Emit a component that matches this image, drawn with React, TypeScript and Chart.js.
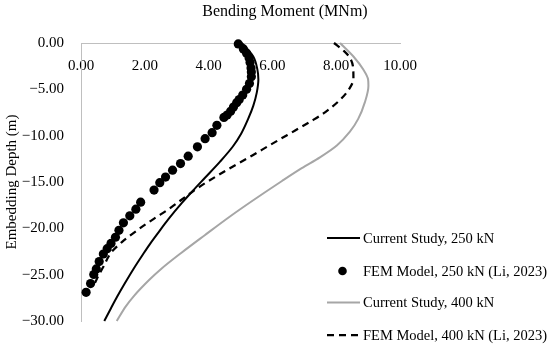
import { useEffect, useRef } from "react";
import { Chart, registerables } from "chart.js";

Chart.register(...registerables);

const seriesLabels = [
  "Current Study, 250 kN",
  "FEM Model, 250 kN (Li, 2023)",
  "Current Study, 400 kN",
  "FEM Model, 400 kN (Li, 2023)",
];

const xAxisTitle = "Bending Moment (MNm)";
const yAxisTitle = "Embedding Depth (m)";

const xTickStep = 2;
const yTickStep = 5;
const xRange = [0, 10];
const yRange = [-30, 0];

// Current Study, 250 kN
const cs250Moment = [5.04, 5.4, 5.53, 5.56, 5.51, 5.4, 5.24, 5.02, 4.76, 4.36, 3.88, 3.54, 3.17, 2.74, 2.43, 2.16, 1.95, 1.65, 1.37, 1.14, 0.94, 0.73];
const cs250Depth = [0, -1.46, -2.87, -3.94, -5.35, -6.78, -8.19, -9.79, -11.17, -12.8, -14.57, -15.82, -17.23, -19.01, -20.43, -21.7, -22.77, -24.36, -25.96, -27.34, -28.62, -30.0];

// FEM Model, 250 kN (Li, 2023)
const fem250Moment = [4.93, 5.09, 5.19, 5.27, 5.3, 5.33, 5.34, 5.34, 5.28, 5.19, 5.07, 4.96, 4.88, 4.78, 4.69, 4.58, 4.48, 4.26, 4.11, 3.89, 3.65, 3.36, 3.12, 2.87, 2.65, 2.47, 2.29, 1.87, 1.72, 1.53, 1.33, 1.19, 1.08, 0.94, 0.82, 0.7, 0.57, 0.48, 0.4, 0.3, 0.16];
const fem250Depth = [-0.1, -0.64, -1.1, -1.63, -2.1, -2.69, -3.14, -3.65, -4.36, -5.0, -5.61, -6.1, -6.44, -6.91, -7.37, -7.77, -8.03, -8.88, -9.68, -10.32, -11.2, -12.21, -13.01, -13.72, -14.47, -15.07, -15.87, -17.18, -17.93, -18.65, -19.41, -20.21, -20.96, -21.63, -22.2, -22.77, -23.59, -24.38, -24.98, -25.96, -26.91];

// Current Study, 400 kN
const cs400Moment = [8.12, 8.54, 8.85, 9.0, 9.01, 8.9, 8.69, 8.43, 8.02, 7.49, 6.92, 6.3, 5.33, 4.67, 3.88, 3.14, 2.52, 2.15, 1.65, 1.41, 1.12];
const cs400Depth = [0, -1.46, -2.87, -3.94, -4.6, -6.38, -8.19, -9.57, -11.06, -12.34, -13.51, -14.89, -17.13, -18.72, -20.74, -22.66, -24.36, -25.53, -27.34, -28.4, -30.0];

// FEM Model, 400 kN (Li, 2023)
const fem400Moment = [7.93, 8.24, 8.43, 8.53, 8.54, 8.4, 8.11, 7.66, 7.28, 6.7, 6.28, 5.95, 5.37, 4.32, 3.66, 3.13, 2.74, 2.27, 1.75, 1.28, 0.96, 0.7, 0.5, 0.39];
const fem400Depth = [0, -0.85, -1.6, -2.66, -3.83, -5.0, -6.17, -7.45, -8.3, -9.47, -10.3, -10.96, -12.13, -14.22, -15.64, -16.97, -17.95, -19.0, -20.24, -21.49, -22.55, -24.15, -25.43, -26.28];

const zip = (xs: number[], ys: number[]) => xs.map((x, i) => ({ x, y: ys[i] }));

const FONT = "'Liberation Serif', 'Times New Roman', serif";
const AXIS_GRAY = "#bfbfbf";

const fmt = (v: number) => {
  const s = Math.abs(v).toFixed(2);
  return v < 0 ? "\u2212" + s : s;
};

const titlePlugin = {
  id: "topTitle",
  afterDraw(chart: any) {
    const ctx = chart.ctx;
    ctx.save();
    ctx.font = `16px ${FONT}`;
    ctx.fillStyle = "#000";
    ctx.textAlign = "center";
    ctx.textBaseline = "middle";
    ctx.fillText(xAxisTitle, 285, 12);
    ctx.restore();
  },
};

const legendPlugin = {
  id: "sideLegend",
  afterDraw(chart: any) {
    const ctx = chart.ctx;
    const rows = [238, 271, 302.5, 335];
    const x0 = 327;
    const x1 = 360;
    const tx = 363;
    ctx.save();
    ctx.font = `14.5px ${FONT}`;
    ctx.textBaseline = "middle";
    ctx.textAlign = "left";
    chart.data.datasets.forEach((ds: any, i: number) => {
      const y = rows[i];
      if (ds.showLine) {
        ctx.beginPath();
        ctx.setLineDash(ds.borderDash || []);
        ctx.strokeStyle = ds.borderColor;
        ctx.lineWidth = ds.borderWidth;
        ctx.moveTo(x0, y);
        ctx.lineTo(x1, y);
        ctx.stroke();
        ctx.setLineDash([]);
      } else {
        ctx.beginPath();
        ctx.fillStyle = ds.pointBackgroundColor;
        ctx.arc((x0 + x1) / 2 - 1, y, 4.3, 0, Math.PI * 2);
        ctx.fill();
      }
      ctx.fillStyle = "#000";
      ctx.fillText(ds.label, tx, y + 1);
    });
    ctx.restore();
  },
};

const lineCommon = {
  showLine: true,
  pointRadius: 0,
  indexAxis: "y",
  cubicInterpolationMode: "monotone",
  clip: false,
};

export default function App() {
  const canvasRef = useRef<HTMLCanvasElement | null>(null);

  useEffect(() => {
    if (!canvasRef.current) return;
    const chart = new Chart(canvasRef.current, {
      type: "scatter",
      data: {
        datasets: [
          {
            ...lineCommon,
            label: seriesLabels[0],
            data: zip(cs250Moment, cs250Depth),
            borderColor: "#000000",
            borderWidth: 2,
          },
          {
            label: seriesLabels[1],
            data: zip(fem250Moment, fem250Depth),
            showLine: false,
            pointRadius: 4.6,
            pointBackgroundColor: "#000000",
            pointBorderColor: "#000000",
            pointBorderWidth: 0,
            clip: false,
          },
          {
            ...lineCommon,
            label: seriesLabels[2],
            data: zip(cs400Moment, cs400Depth),
            borderColor: "#a6a6a6",
            borderWidth: 2,
          },
          {
            ...lineCommon,
            label: seriesLabels[3],
            data: zip(fem400Moment, fem400Depth),
            borderColor: "#000000",
            borderWidth: 2.25,
            borderDash: [7, 5],
          },
        ] as any,
      },
      options: {
        animation: false,
        responsive: true,
        maintainAspectRatio: false,
        layout: { padding: { top: 43, right: 150, bottom: 22, left: 0 } },
        plugins: {
          legend: { display: false },
          tooltip: { enabled: false },
          title: { display: false },
        },
        scales: {
          x: {
            type: "linear",
            position: { y: 0 } as any,
            min: xRange[0],
            max: xRange[1],
            grid: { display: false, drawTicks: false },
            border: { display: true, color: AXIS_GRAY, width: 1 },
            ticks: {
              stepSize: xTickStep,
              padding: 14,
              color: "#000",
              font: { family: FONT, size: 15 },
              callback: (v: any) => fmt(Number(v)),
            },
          },
          y: {
            type: "linear",
            position: "left",
            min: yRange[0],
            max: yRange[1],
            grid: { display: false, drawTicks: false },
            border: { display: true, color: AXIS_GRAY, width: 1 },
            ticks: {
              stepSize: yTickStep,
              padding: 17,
              color: "#000",
              font: { family: FONT, size: 15 },
              callback: (v: any) => fmt(Number(v)),
            },
            title: {
              display: true,
              text: yAxisTitle,
              color: "#000",
              font: { family: FONT, size: 15 },
              padding: { top: 3, bottom: 0 },
            },
            afterFit: (scale: any) => {
              scale.width = 81;
            },
          },
        },
      },
      plugins: [titlePlugin, legendPlugin],
    });
    return () => chart.destroy();
  }, []);

  return (
    <div style={{ position: "fixed", left: 0, top: 0, width: 550, height: 347, background: "#fff" }}>
      <canvas ref={canvasRef} />
    </div>
  );
}
